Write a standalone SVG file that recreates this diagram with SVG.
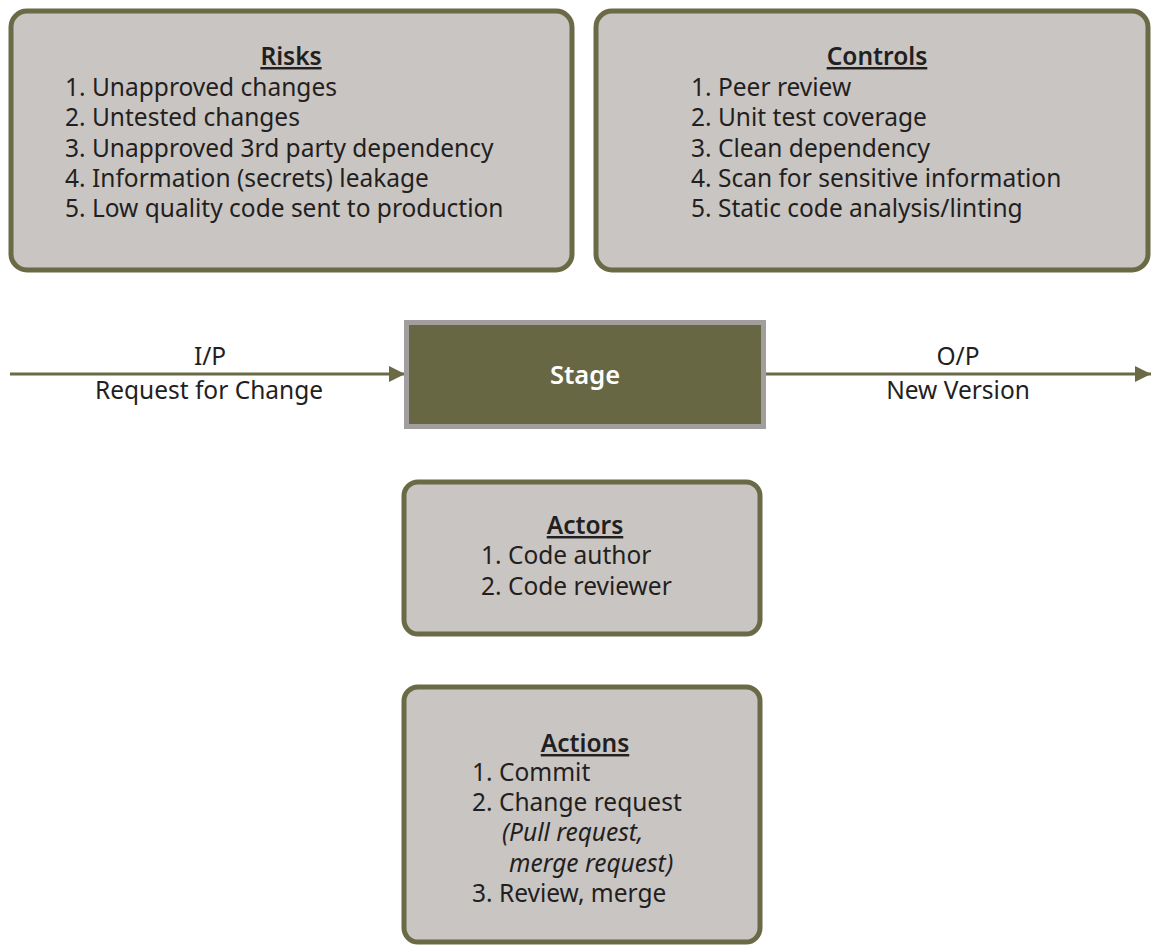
<svg xmlns="http://www.w3.org/2000/svg" width="1151" height="946" viewBox="0 0 1151 946">
<style>
.box{fill:#c9c5c3;stroke:#6b6a47;stroke-width:5}
text{font-family:"Noto Sans",Lato,sans-serif;font-size:24.5px;fill:#231f20}
.h{font-weight:600;text-decoration:underline;text-anchor:middle}
.c{text-anchor:middle}
.i{font-style:italic}
.w{fill:#ffffff;font-weight:600;text-anchor:middle}
.ln{stroke:#6b6a47;stroke-width:3;fill:none}
</style>
<defs>
<marker id="ah" viewBox="0 0 10 10" refX="10" refY="5" markerWidth="5.5" markerHeight="6" markerUnits="strokeWidth" orient="auto">
<path d="M0,0 L10,5 L0,10 z" fill="#6b6a47"/>
</marker>
</defs>
<g id="connectors">
<line class="ln" x1="10" y1="374" x2="405" y2="374" marker-end="url(#ah)"/>
<line class="ln" x1="766" y1="374" x2="1151" y2="374" marker-end="url(#ah)"/>
<text class="c" x="210" y="365">I/P</text>
<text class="c" x="209" y="399">Request for Change</text>
<text class="c" x="958" y="365">O/P</text>
<text class="c" x="958" y="399">New Version</text>
</g>
<g id="risks">
<rect class="box" x="11" y="11" width="561" height="259" rx="16"/>
<text class="h" x="291" y="65">Risks</text>
<text x="65" y="96">1. Unapproved changes</text>
<text x="65" y="126">2. Untested changes</text>
<text x="65" y="157">3. Unapproved 3rd party dependency</text>
<text x="65" y="187">4. Information (secrets) leakage</text>
<text x="65" y="217">5. Low quality code sent to production</text>
</g>
<g id="controls">
<rect class="box" x="596" y="11" width="552" height="259" rx="16"/>
<text class="h" x="877" y="65">Controls</text>
<text x="691" y="96">1. Peer review</text>
<text x="691" y="126">2. Unit test coverage</text>
<text x="691" y="157">3. Clean dependency</text>
<text x="691" y="187">4. Scan for sensitive information</text>
<text x="691" y="217">5. Static code analysis/linting</text>
</g>
<g id="stage">
<rect x="406.5" y="322.5" width="357" height="104" fill="#686744" stroke="#a39e9e" stroke-width="5"/>
<text class="w" x="585" y="384" style="font-size:25.5px">Stage</text>
</g>
<g id="actors">
<rect class="box" x="404" y="482" width="356" height="152" rx="14"/>
<text class="h" x="585" y="534">Actors</text>
<text x="481" y="564">1. Code author</text>
<text x="481" y="595">2. Code reviewer</text>
</g>
<g id="actions">
<rect class="box" x="404" y="687" width="356" height="255" rx="14"/>
<text class="h" x="585" y="752">Actions</text>
<text x="472" y="781">1. Commit</text>
<text x="472" y="811">2. Change request</text>
<text class="i" x="502" y="841">(Pull request,</text>
<text class="i" x="509" y="872">merge request)</text>
<text x="472" y="902">3. Review, merge</text>
</g>
</svg>
